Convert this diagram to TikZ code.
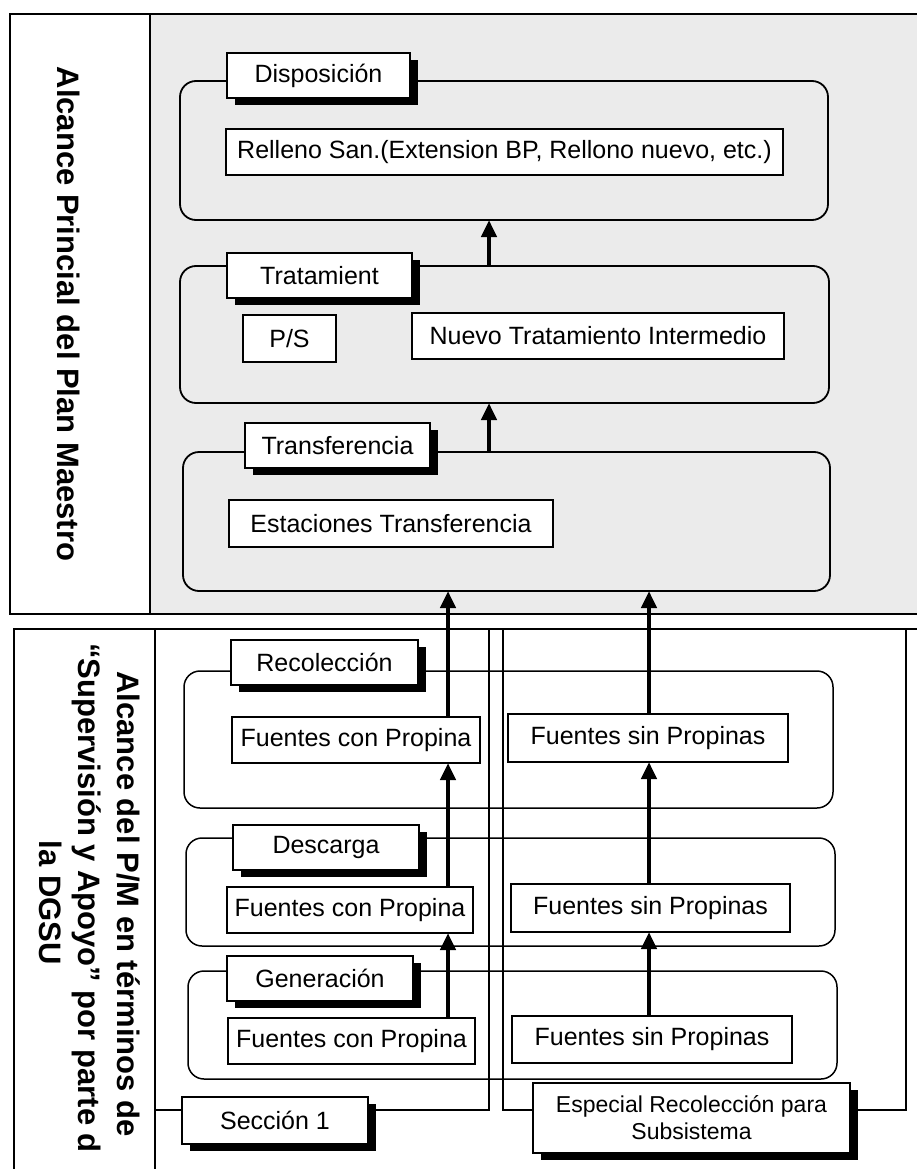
\documentclass[tikz,border=0pt]{standalone}
\usepackage{fontspec}
\setmainfont{Liberation Sans}
\usetikzlibrary{arrows.meta,shadows,calc}
\pgfdeclarelayer{bg}
\pgfsetlayers{bg,main}
\begin{document}
\begin{tikzpicture}[x=1pt,y=-1pt,
  every node/.style={inner sep=0pt,outer sep=0pt},
  frame/.style={line width=2.6pt},
  cont/.style={draw,rounded corners=16pt,line width=1.8pt},
  lab/.style={draw,fill=white,line width=2pt,font=\fontsize{25}{28}\selectfont,
    drop shadow={shadow xshift=8pt,shadow yshift=-7pt,fill=black,opacity=1}},
  cbox/.style={draw,fill=white,line width=1.8pt,font=\fontsize{25}{28}\selectfont},
  arr/.style={line width=4.5pt,-{Triangle[width=15pt,length=17pt]}},
  br/.style={line width=2.4pt},
  side/.style={font=\bfseries\fontsize{31}{38}\selectfont,rotate=-90}
]
\useasboundingbox (0,0) rectangle (917,1169);
\clip (0,0) rectangle (917,1169);

% background and frames
\begin{pgfonlayer}{bg}
  \fill[black!8] (150,14) rectangle (925,614);
\end{pgfonlayer}
\draw[frame] (10,14) rectangle (925,614);
\draw[frame] (150,14) -- (150,614);
\draw[frame] (925,629) -- (14,629) -- (14,1180);
\draw[frame] (155,629) -- (155,1180);

% side titles
\node[side,anchor=base] (t1) at (57,314) {Alcance Princial del Plan Maestro};
\node[side,anchor=base] (b1) at (117,904) {Alcance del P/M en términos de};
\node[side,anchor=base west] (b2) at (78,643) {“Supervisión y Apoyo” por parte d};
\node[side,anchor=base] (b3) at (39,903) {la DGSU};

% ---- top region ----
\node[cont,minimum width=648pt,minimum height=139pt] (contD) at (504,150.5) {};
\node[cbox,minimum width=557pt,minimum height=46pt] (relleno) at (504.5,152) {Relleno San.(Extension BP, Rellono nuevo, etc.)};
\node[lab,minimum width=183pt,minimum height=45pt] (labD) at (318.5,75.5) {Disposición};

\node[cont,minimum width=649pt,minimum height=137pt] (contT) at (504.5,334.5) {};
\node[cbox,minimum width=93pt,minimum height=47pt] (ps) at (289.5,338.5) {P/S};
\node[cbox,minimum width=372pt,minimum height=46pt] (nuevo) at (598,336) {Nuevo Tratamiento Intermedio};
\node[lab,minimum width=185pt,minimum height=45pt] (labT) at (319.5,275.5) {Tratamient};

\node[cont,minimum width=647pt,minimum height=139pt] (contTr) at (506.5,521.5) {};
\node[cbox,minimum width=324pt,minimum height=47pt] (estac) at (391,523.5) {Estaciones Transferencia};
\node[lab,minimum width=185pt,minimum height=45pt] (labTr) at (337.5,445.5) {Transferencia};

\coordinate (aT) at (489,0);
\draw[arr] (contT.north -| aT) -- (contD.south -| aT);
\draw[arr] (contTr.north -| aT) -- (contT.south -| aT);

% ---- bottom region ----
\node[cont,line width=1.5pt,minimum width=649pt,minimum height=137pt] (contR) at (508.5,739.5) {};
\node[cbox,minimum width=248pt,minimum height=46pt] (fcp1) at (356,740) {Fuentes con Propina};
\node[cbox,minimum width=280pt,minimum height=48pt] (fsp1) at (648,738) {Fuentes sin Propinas};
\node[lab,minimum width=187pt,minimum height=45pt] (labR) at (324.5,662.5) {Recolección};

\node[cont,line width=1.5pt,minimum width=649pt,minimum height=108pt] (contDe) at (510.5,892) {};
\node[cbox,minimum width=246pt,minimum height=46pt] (fcp2) at (350,910) {Fuentes con Propina};
\node[cbox,minimum width=279pt,minimum height=48pt] (fsp2) at (650.5,908) {Fuentes sin Propinas};
\node[lab,minimum width=186pt,minimum height=45pt] (labDe) at (326,847.5) {Descarga};

\node[cont,line width=1.5pt,minimum width=649pt,minimum height=108pt] (contG) at (512.5,1025) {};
\node[cbox,minimum width=247pt,minimum height=46pt] (fcp3) at (351.5,1041) {Fuentes con Propina};
\node[cbox,minimum width=280pt,minimum height=47pt] (fsp3) at (652,1039.5) {Fuentes sin Propinas};
\node[lab,minimum width=186pt,minimum height=45pt] (labG) at (320,978.5) {Generación};

\node[lab,minimum width=186pt,minimum height=47pt] (sec) at (275,1120.5) {Sección 1};
\node[lab,font=\fontsize{23}{27}\selectfont,align=center,minimum width=317pt,minimum height=70pt] (esp) at (691.5,1118) {Especial Recolección para\\Subsistema};

% brackets
\coordinate (by) at (0,1110);
\coordinate (dv) at (155,1110);
\coordinate (v1) at (489,629);
\coordinate (v2) at (503,629);
\coordinate (v3) at (906,629);
\begin{pgfonlayer}{bg}
  \draw[br] (dv) -- (sec.west |- by);
  \draw[br] (sec.east |- by) -| (v1);
  \draw[br] (esp.west |- by) -| (v2);
  \draw[br] (esp.east |- by) -| (v3);
\end{pgfonlayer}

% arrows
\coordinate (aL) at (448,0);
\coordinate (aR) at (649,0);
\draw[arr] (fcp1.north -| aL) -- (contTr.south -| aL);
\draw[arr] (fcp2.north -| aL) -- (fcp1.south -| aL);
\draw[arr] (fcp3.north -| aL) -- (fcp2.south -| aL);
\draw[arr] (fsp1.north -| aR) -- (contTr.south -| aR);
\draw[arr] (fsp2.north -| aR) -- (fsp1.south -| aR);
\draw[arr] (fsp3.north -| aR) -- (fsp2.south -| aR);
\end{tikzpicture}
\end{document}
